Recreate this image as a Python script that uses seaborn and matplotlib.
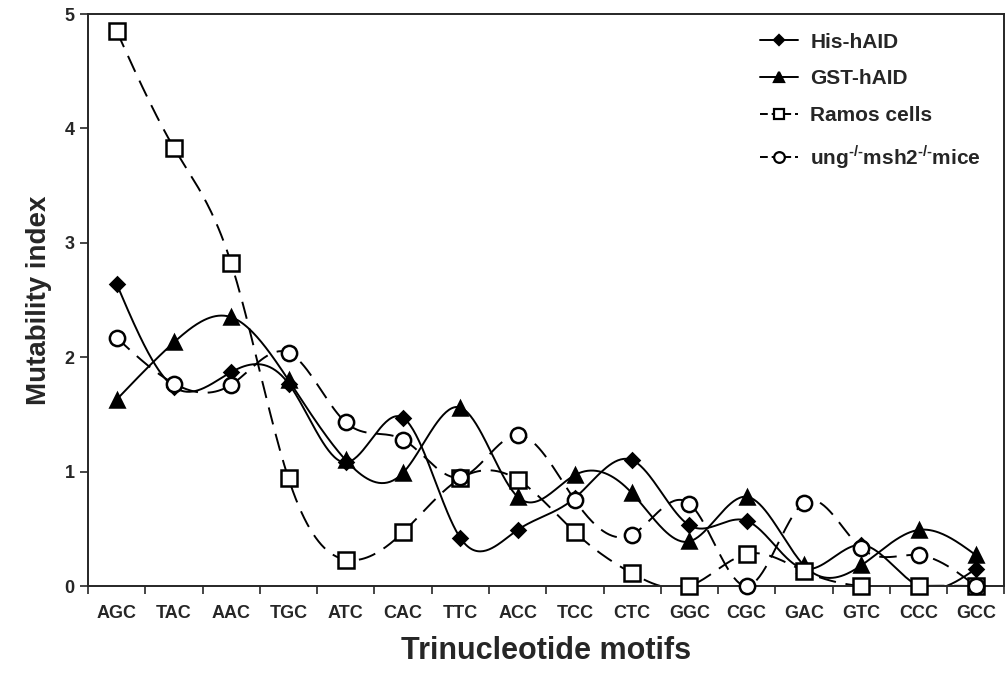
import numpy as np
import pandas as pd
import matplotlib
matplotlib.use("Agg")
import matplotlib.pyplot as plt
import seaborn as sns

motifs = ['AGC', 'TAC', 'AAC', 'TGC', 'ATC', 'CAC', 'TTC', 'ACC',
          'TCC', 'CTC', 'GGC', 'CGC', 'GAC', 'GTC', 'CCC', 'GCC']
his_haid = [2.64, 1.74, 1.87, 1.77, 1.08, 1.47, 0.42, 0.49,
            0.77, 1.10, 0.53, 0.57, 0.15, 0.36, 0.00, 0.15]
gst_haid = [1.63, 2.13, 2.35, 1.80, 1.10, 0.99, 1.56, 0.78,
            0.97, 0.81, 0.39, 0.78, 0.18, 0.18, 0.49, 0.27]
ramos = [4.85, 3.83, 2.82, 0.94, 0.23, 0.47, 0.94, 0.93,
         0.47, 0.11, 0.00, 0.28, 0.13, 0.00, 0.00, 0.00]
ung_msh2 = [2.17, 1.77, 1.76, 2.04, 1.43, 1.28, 0.95, 1.32,
            0.75, 0.45, 0.72, 0.00, 0.73, 0.33, 0.27, 0.00]


def natural_spline(x, y, n=40):
    # natural cubic spline through the points (like the smoothed lines in SigmaPlot)
    x = np.asarray(x, float)
    y = np.asarray(y, float)
    k = len(x)
    h = np.diff(x)
    A = np.zeros((k, k))
    b = np.zeros(k)
    A[0, 0] = A[-1, -1] = 1
    for i in range(1, k - 1):
        A[i, i - 1] = h[i - 1]
        A[i, i] = 2 * (h[i - 1] + h[i])
        A[i, i + 1] = h[i]
        b[i] = 3 * ((y[i + 1] - y[i]) / h[i] - (y[i] - y[i - 1]) / h[i - 1])
    c = np.linalg.solve(A, b)
    xs, ys = [], []
    for i in range(k - 1):
        t = np.linspace(0, h[i], n, endpoint=False)
        bi = (y[i + 1] - y[i]) / h[i] - h[i] * (2 * c[i] + c[i + 1]) / 3
        di = (c[i + 1] - c[i]) / (3 * h[i])
        xs.append(x[i] + t)
        ys.append(y[i] + bi * t + c[i] * t ** 2 + di * t ** 3)
    xs.append([x[-1]])
    ys.append([y[-1]])
    return np.concatenate(xs), np.concatenate(ys)


sns.set_style("ticks")
plt.rcParams['font.family'] = ['Liberation Sans', 'DejaVu Sans']
plt.rcParams['font.weight'] = 'bold'
plt.rcParams['mathtext.fontset'] = 'custom'
plt.rcParams['mathtext.rm'] = 'Liberation Sans:bold'
plt.rcParams['mathtext.bf'] = 'Liberation Sans:bold'

fig = plt.figure(figsize=(10.06, 6.83), dpi=100)
ax = fig.add_axes([0.0875, 0.142, 0.911, 0.8375])

series = [
    ('His-hAID', his_haid, 'D', 'black', '-', 7),
    ('GST-hAID', gst_haid, '^', 'black', '-', 10),
    ('Ramos cells', ramos, 's', 'white', (0, (9, 5)), 11),
    (r'ung$^{\text{-/-}}$msh2$^{\text{-/-}}$mice', ung_msh2, 'o', 'white', (0, (9, 5)), 11),
]

pos = np.arange(len(motifs))
handles = []
for label, vals, marker, fc, ls, ms in series:
    sx, sy = natural_spline(pos, vals)
    curve = pd.DataFrame({'x': sx, 'y': sy})
    sns.lineplot(data=curve, x='x', y='y', ax=ax, color='black', lw=1.4,
                 linestyle=ls, sort=False, estimator=None, zorder=2)
    pts = pd.DataFrame({'x': pos, 'y': vals})
    ax.plot(pts['x'], pts['y'], linestyle='none', marker=marker, ms=ms,
            mfc=fc, mec='black', mew=1.8, zorder=3, clip_on=False)
    h, = ax.plot([], [], color='black', lw=1.4,
                 linestyle='-' if ls == '-' else (0, (4, 2)), marker=marker,
                 ms=ms * 0.7, mfc=fc, mec='black', mew=1.6)
    handles.append((h, label))

ax.set_xlim(-0.5, len(motifs) - 0.5)
ax.set_ylim(0, 5)
ax.set_yticks(range(6))
ax.set_xticks(pos)
ax.set_xticklabels(motifs)
ax.set_xticks(np.arange(-0.5, len(motifs)), minor=True)
ax.tick_params(axis='x', which='major', length=0, pad=14, labelsize=13)
ax.tick_params(axis='x', which='minor', length=6, width=1.2, direction='out')
ax.tick_params(axis='y', length=6, width=1.2, direction='out', labelsize=13)
for lab in ax.get_xticklabels() + ax.get_yticklabels():
    lab.set_fontweight('bold')
for s in ax.spines.values():
    s.set_linewidth(1.4)
    s.set_visible(True)

ax.set_xlabel('Trinucleotide motifs', fontsize=22, fontweight='bold', labelpad=10)
ax.set_ylabel('Mutability index', fontsize=20, fontweight='bold', labelpad=9)

ax.legend([h for h, _ in handles], [l for _, l in handles], loc='upper right',
          bbox_to_anchor=(0.995, 1.0), frameon=False, prop={'size': 15, 'weight': 'bold'},
          labelspacing=0.85, handlelength=1.8, handletextpad=0.6)

fig.savefig('out.png', dpi=100)
